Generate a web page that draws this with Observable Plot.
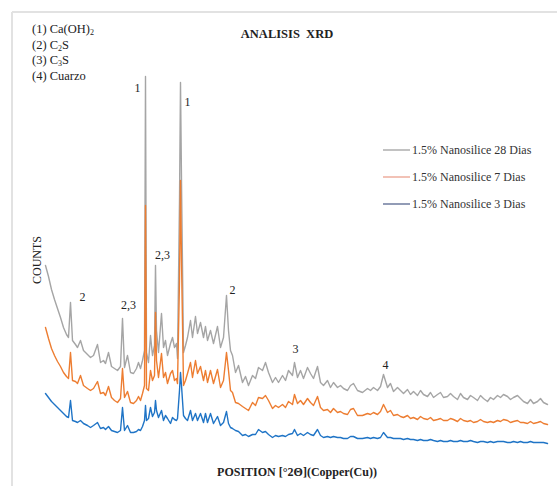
<!DOCTYPE html>
<html>
<head>
<meta charset="utf-8">
<script src="https://cdn.jsdelivr.net/npm/d3@7"></script>
<script src="https://cdn.jsdelivr.net/npm/@observablehq/plot@0.6"></script>
<style>
  body { margin: 0; background: #fff; }
  #chart svg { display: block; }
</style>
</head>
<body>
<div id="chart"></div>
<script>
// Position (°2θ) – shared by all three diffractograms
const twoTheta = [
  5.0,5.3,5.6,5.9,6.2,6.5,6.8,7.1,7.3,7.5,
  7.7,8.0,8.2,8.5,8.8,9.2,9.5,9.8,10.2,10.5,
  10.8,11.0,11.3,11.6,11.9,12.2,12.5,12.7,12.9,13.2,
  13.5,13.8,14.1,14.3,14.5,14.7,14.9,15.0,15.1,15.3,
  15.5,15.7,15.9,16.0,16.1,16.3,16.6,16.8,17.0,17.2,
  17.5,17.7,17.9,18.1,18.2,18.4,18.5,18.6,18.8,19.0,
  19.2,19.5,19.7,20.0,20.2,20.5,20.8,21.0,21.2,21.5,
  21.8,22.2,22.5,22.8,23.1,23.3,23.5,23.7,24.0,24.3,
  24.7,25.0,25.3,25.7,26.0,26.3,26.7,27.0,27.3,27.7,
  28.0,28.3,28.7,29.0,29.3,29.7,29.9,30.2,30.5,30.8,
  31.2,31.5,31.8,32.2,32.5,32.8,33.2,33.5,33.8,34.2,
  34.5,34.8,35.2,35.5,35.8,36.2,36.7,37.2,37.5,37.8,
  38.2,38.5,38.8,39.2,39.5,39.8,40.2,40.5,40.8,41.2,
  41.5,41.8,42.2,42.5,42.8,43.2,43.5,43.8,44.2,44.5,
  44.8,45.2,45.5,45.8,46.2,46.5,46.8,47.2,47.5,47.8,
  48.2,48.5,48.8,49.2,49.5,49.8,50.2,50.5,50.8,51.2,
  51.5,51.8,52.2,52.5,52.8,53.2,53.5,53.8,54.2,54.5,
  54.8,55.2
];

// 1.5% Nanosilice 28 Dias (gray)
const counts28 = [
  185,174,161,151,142,133,123,116,113,148,
  110,106,103,110,100,96,93,95,106,88,
  90,87,98,84,82,80,84,132,83,95,
  78,77,82,88,82,90,100,374,98,88,
  115,95,105,185,120,98,137,103,110,95,
  107,113,103,107,92,250,368,270,98,105,
  113,130,113,134,117,128,113,124,110,120,
  107,124,103,113,155,120,100,95,78,85,
  68,74,65,75,72,83,80,88,78,68,
  73,68,75,70,80,75,88,73,80,72,
  83,77,72,84,68,65,70,63,68,63,
  65,62,60,65,67,60,58,62,60,63,
  60,64,76,63,67,59,63,60,57,61,
  56,59,55,60,56,54,58,53,56,58,
  53,54,57,54,51,57,53,51,55,53,
  50,55,52,49,53,51,55,53,56,54,
  51,53,55,52,49,47,51,47,49,52,
  48,46
];

// 1.5% Nanosilice 7 Dias (orange)
const counts7 = [
  123,112,102,95,89,84,78,74,72,98,
  70,69,67,75,65,62,60,62,69,57,
  58,55,64,53,50,48,52,82,53,59,
  48,47,50,54,50,57,65,245,62,60,
  80,70,75,138,90,73,97,73,78,67,
  77,80,70,72,67,170,270,190,65,70,
  77,88,73,90,77,84,70,80,68,80,
  67,81,63,70,98,80,60,58,48,47,
  44,42,40,48,45,53,52,55,50,42,
  45,43,46,43,49,46,56,47,50,46,
  52,48,45,54,43,40,41,38,42,38,
  39,37,36,41,42,35,35,37,36,38,
  36,39,46,38,40,35,36,34,33,35,
  32,33,31,34,32,31,33,30,31,32,
  30,30,32,31,29,32,30,29,30,28,
  29,31,29,28,29,28,30,29,31,30,
  28,29,30,28,28,27,29,27,28,29,
  27,26
];

// 1.5% Nanosilice 3 Dias (blue)
const counts3 = [
  57,53,49,46,43,40,37,34,33,50,
  30,29,28,30,27,25,23,25,28,22,
  23,21,24,20,19,18,20,43,20,25,
  18,18,19,21,20,24,30,45,30,32,
  43,34,38,50,40,33,40,30,35,32,
  27,33,31,30,32,60,78,65,35,32,
  30,40,30,37,30,37,28,37,28,37,
  27,34,25,28,39,27,23,22,20,19,
  15,16,14,16,16,21,18,19,16,13,
  15,14,15,14,16,17,21,15,17,15,
  18,16,15,21,15,13,14,13,14,13,
  13,12,12,14,14,12,12,13,12,13,
  12,13,18,13,13,12,12,12,11,12,
  11,11,10,11,10,10,11,10,9,10,
  9,9,10,9,9,10,9,9,10,9,
  8,9,9,8,9,8,9,9,9,8,
  8,9,8,9,8,8,9,8,8,8,
  8,7
];

// Peak annotations
const peakText = ["1", "1", "2,3", "2", "2,3", "2", "3", "4"];
const peakX    = [14.2, 19.2, 16.7, 8.7, 13.3, 23.7, 30.0, 39.0];
const peakY    = [362, 348, 195, 153, 145, 160, 101, 85];

// Series and phase legends
const seriesNames  = ["1.5% Nanosilice 28 Dias", "1.5% Nanosilice 7 Dias", "1.5% Nanosilice 3 Dias"];
const seriesColors = ["#a5a5a5", "#ed7d31", "#1f74c6"];
const legendLineColors = ["#9a9a9a", "#e99a86", "#4a5a86"];
const phases = [
  ["(1) Ca(OH)", "2", ""],
  ["(2) C", "2", "S"],
  ["(3) C", "3", "S"],
  ["(4) Cuarzo", "", ""]
];

const serif = "'Liberation Serif', 'DejaVu Serif', serif";

const chart = Plot.plot({
  width: 557,
  height: 486,
  marginLeft: 45,
  marginRight: 9,
  marginTop: 75,
  marginBottom: 36,
  x: { domain: [5, 55.3], axis: null },
  y: { domain: [0, 375], axis: null },
  style: { background: "#fff", fontFamily: serif, overflow: "visible" },
  marks: [
    Plot.line(twoTheta, { x: twoTheta, y: counts28, stroke: seriesColors[0], strokeWidth: 1.4 }),
    Plot.line(twoTheta, { x: twoTheta, y: counts7, stroke: seriesColors[1], strokeWidth: 1.4 }),
    Plot.line(twoTheta, { x: twoTheta, y: counts3, stroke: seriesColors[2], strokeWidth: 1.4 }),
    Plot.text(peakText, { x: peakX, y: peakY, text: peakText, fontSize: 12, fill: "#222", fontFamily: serif })
  ]
});

const svg = d3.select(chart);

function label(x, y, str, opts = {}) {
  return svg.append("text")
    .attr("x", x).attr("y", y)
    .style("text-anchor", opts.anchor || "start")
    .style("font-family", serif)
    .style("font-size", (opts.size || 12.5) + "px")
    .style("font-weight", opts.bold ? "bold" : "normal")
    .style("fill", opts.fill || "#222")
    .text(str);
}

// light frame
svg.append("line").attr("x1", 12).attr("y1", 12).attr("x2", 557).attr("y2", 12)
  .attr("stroke", "#e2e2e2").attr("stroke-width", 2);
svg.append("line").attr("x1", 12).attr("y1", 12).attr("x2", 12).attr("y2", 486)
  .attr("stroke", "#e2e2e2").attr("stroke-width", 2);

// title
label(287, 38, "ANALISIS  XRD", { anchor: "middle", bold: true, size: 12.5 }).style("white-space", "pre");

// phase list
phases.forEach((p, i) => {
  const t = label(32, 33 + i * 15.7, null, { size: 12.5 });
  t.append("tspan").text(p[0]);
  if (p[1]) t.append("tspan").style("font-size", "8px").attr("dy", 2).text(p[1]);
  if (p[2]) t.append("tspan").attr("dy", -2).text(p[2]);
});

// series legend
seriesNames.forEach((name, i) => {
  const y = 150 + i * 27;
  svg.append("line").attr("x1", 383).attr("x2", 410).attr("y1", y).attr("y2", y)
    .attr("stroke", legendLineColors[i]).attr("stroke-width", 1.2);
  label(412, y + 4, name, { size: 12, fill: "#333" });
});

// axis titles
label(0, 0, "COUNTS", { anchor: "middle", size: 12 })
  .attr("transform", "translate(41,260) rotate(-90)");
label(297, 476, "POSITION [°2Θ](Copper(Cu))", { anchor: "middle", bold: true, size: 12 });

document.getElementById("chart").append(chart);
</script>
</body>
</html>
